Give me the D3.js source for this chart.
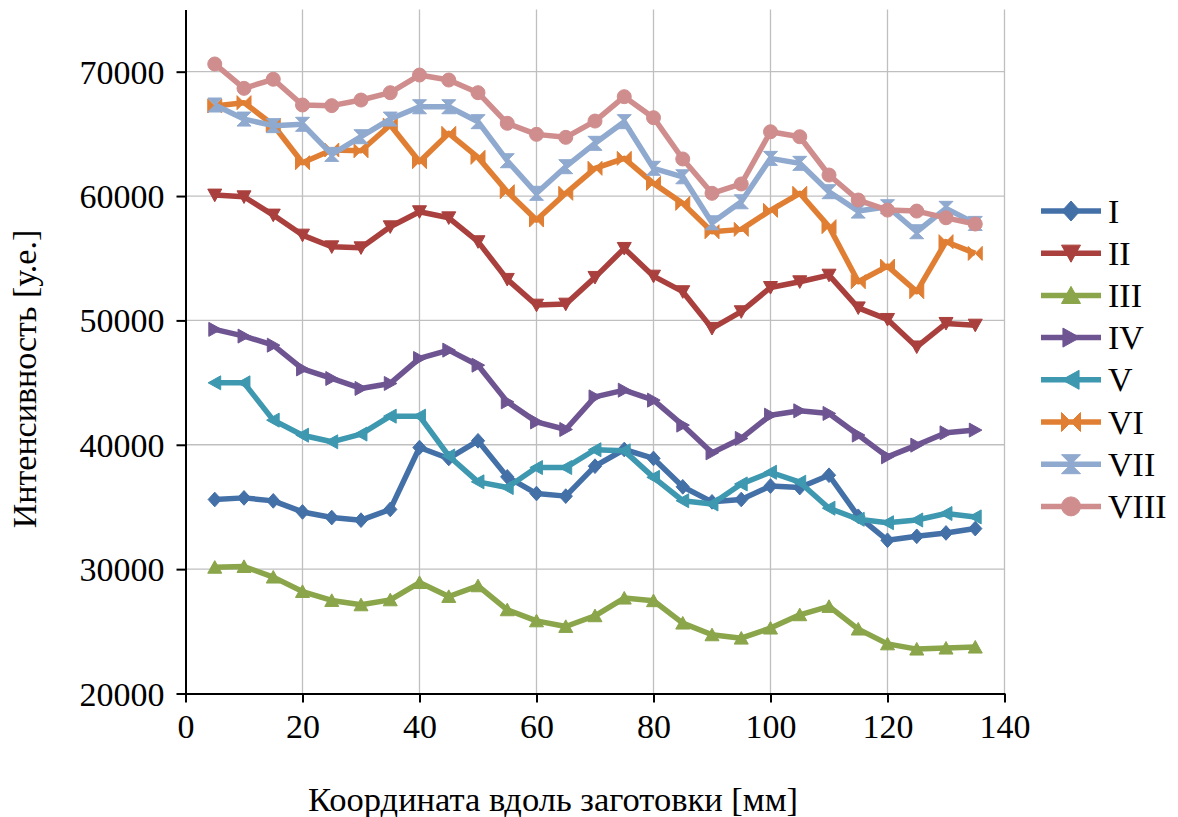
<!DOCTYPE html>
<html><head><meta charset="utf-8">
<script src="https://cdn.jsdelivr.net/npm/d3@7"></script>
<style>
html,body{margin:0;padding:0;background:#fff;}
svg text{font-family:"Liberation Serif","Times New Roman",serif;fill:#000;}
</style></head>
<body>
<svg id="chart" width="1178" height="817"></svg>
<script>
const xValues = [5,10,15,20,25,30,35,40,45,50,55,60,65,70,75,80,85,90,95,100,105,110,115,120,125,130,135];
const seriesNames = ["I","II","III","IV","V","VI","VII","VIII"];
const seriesI    = [35600,35730,35490,34600,34150,33940,34800,39780,38900,40320,37420,36080,35870,38280,39620,38900,36620,35410,35600,36680,36560,37550,34250,32320,32640,32910,33260];
const seriesII   = [60080,59940,58470,56860,55920,55840,57530,58740,58250,56330,53300,51230,51310,53460,55790,53560,52310,49360,50700,52650,53110,53640,51010,50080,47870,49760,49620];
const seriesIII  = [30150,30210,29360,28200,27480,27130,27530,28920,27800,28660,26730,25840,25390,26250,27670,27460,25660,24720,24450,25260,26330,27000,25180,23990,23570,23650,23730];
const seriesIV   = [49280,48740,48010,46100,45330,44530,44930,46940,47610,46400,43450,41840,41230,43850,44390,43590,41580,39350,40510,42380,42730,42520,40780,39030,39970,40960,41180];
const seriesV    = [44980,44980,41980,40770,40240,40860,42300,42300,39100,37020,36560,38170,38170,39600,39510,37380,35500,35240,36850,37790,36990,34900,34010,33730,33950,34470,34200];
const seriesVI   = [67240,67510,65710,62680,63700,63640,65710,62760,65040,63110,60350,58070,60220,62230,63030,61020,59410,57130,57320,58850,60220,57540,53110,54370,52310,56330,55390];
const seriesVII  = [67320,66190,65660,65770,63350,64770,66190,67180,67180,65980,62840,60220,62360,64240,65980,62230,61550,57850,59540,63030,62630,60350,58790,59140,57130,59010,57800];
const seriesVIII = [70620,68660,69390,67320,67270,67720,68310,69730,69330,68310,65850,64960,64720,66030,67990,66300,62980,60220,60970,65170,64770,61690,59680,58870,58790,58250,57750];
const xTicks = [0,20,40,60,80,100,120,140];
const yTicks = [20000,30000,40000,50000,60000,70000];
const xTitle = "Координата вдоль заготовки [мм]";
const yTitle = "Интенсивность [у.е.]";

const allSeries = [seriesI,seriesII,seriesIII,seriesIV,seriesV,seriesVI,seriesVII,seriesVIII];
const colors = ["#4470a8","#a9403d","#8aa54a","#6e5592","#3d98b0","#e07f33","#8fa9cf","#d08d8d"];
const shapes = ["diamond","triDown","triUp","triRight","triLeft","bowtie","hourglass","circle"];

const svg = d3.select("#chart");
const L = 185.5, R = 1004.5, T = 9.5, B = 693.5;
const x = d3.scaleLinear().domain([0,140]).range([L,R]);
const y = d3.scaleLinear().domain([20000,75000]).range([B,T]);

function shapePath(kind, s){
  switch(kind){
    case "diamond": return `M0,${-s*1.05}L${s*0.95},0L0,${s*1.05}L${-s*0.95},0Z`;
    case "triDown": return `M${-s},${-s*0.85}L${s},${-s*0.85}L0,${s*0.95}Z`;
    case "triUp": return `M${-s},${s*0.85}L${s},${s*0.85}L0,${-s*0.95}Z`;
    case "triRight": return `M${-s*0.85},${-s}L${-s*0.85},${s}L${s*0.95},0Z`;
    case "triLeft": return `M${s*0.85},${-s}L${s*0.85},${s}L${-s*0.95},0Z`;
    case "bowtie": return `M${-s},${-s}L${s},${s}L${s},${-s}L${-s},${s}Z`;
    case "hourglass": return `M${-s},${-s}L${s},${-s}L${-s},${s}L${s},${s}Z`;
    case "circle": return `M${-s},0A${s},${s} 0 1,0 ${s},0A${s},${s} 0 1,0 ${-s},0Z`;
  }
}

// gridlines
const grid = svg.append("g");
grid.selectAll("line.vg").data(xTicks.filter(d=>d>0)).enter().append("line")
  .attr("x1",d=>x(d)).attr("x2",d=>x(d)).attr("y1",T).attr("y2",B)
  .attr("stroke","#bfbfbf").attr("stroke-width",1.3);
grid.selectAll("line.hg").data(yTicks.filter(d=>d>20000)).enter().append("line")
  .attr("x1",L).attr("x2",R).attr("y1",d=>y(d)).attr("y2",d=>y(d))
  .attr("stroke","#bfbfbf").attr("stroke-width",1.3);

// axes
const xAxis = d3.axisBottom(x).tickValues(xTicks).tickSize(9).tickSizeOuter(0).tickPadding(10).tickFormat(d3.format("d"));
const yAxis = d3.axisLeft(y).tickValues(yTicks).tickSize(9).tickSizeOuter(0).tickPadding(12).tickFormat(d3.format("d"));
const gx = svg.append("g").attr("transform",`translate(0,${B})`).call(xAxis);
const gy = svg.append("g").attr("transform",`translate(${L},0)`).call(yAxis);
[gx,gy].forEach(g=>{
  g.select(".domain").attr("stroke","#000").attr("stroke-width",2);
  g.selectAll(".tick line").attr("stroke","#000").attr("stroke-width",2);
  g.selectAll(".tick text").attr("font-size","34px").attr("font-family","Liberation Serif");
});
gy.selectAll(".tick text").attr("dy","0.34em");
gx.selectAll(".tick text").attr("dy","0.74em");

// series lines
const line = d3.line().x((d,i)=>x(xValues[i])).y(d=>y(d));
const plot = svg.append("g");
allSeries.forEach((s,k)=>{
  plot.append("path").datum(s).attr("d",line).attr("fill","none")
    .attr("stroke",colors[k]).attr("stroke-width",5.5).attr("stroke-linejoin","round");
  plot.selectAll(null).data(s).enter().append("path")
    .attr("transform",(d,i)=>`translate(${x(xValues[i])},${y(d)})`)
    .attr("d",shapePath(shapes[k],7))
    .attr("fill",colors[k]).attr("stroke",colors[k]).attr("stroke-width",1);
});

// titles
svg.append("text").attr("x",553).attr("y",811).attr("text-anchor","middle")
  .attr("font-size","34.5px").text(xTitle);
svg.append("text").attr("transform","translate(36,379) rotate(-90)").attr("text-anchor","middle")
  .attr("font-size","34px").text(yTitle);

// legend
const lg = svg.append("g");
seriesNames.forEach((n,k)=>{
  const cy = 211 + k*42.2;
  lg.append("line").attr("x1",1041).attr("x2",1101).attr("y1",cy).attr("y2",cy)
    .attr("stroke",colors[k]).attr("stroke-width",5.5);
  lg.append("path").attr("transform",`translate(1071,${cy})`).attr("d",shapePath(shapes[k],9.5))
    .attr("fill",colors[k]).attr("stroke",colors[k]).attr("stroke-width",1);
  lg.append("text").attr("x",1108).attr("y",cy).attr("dy","0.34em").attr("font-size","34px").text(n);
});
</script>
</body></html>
